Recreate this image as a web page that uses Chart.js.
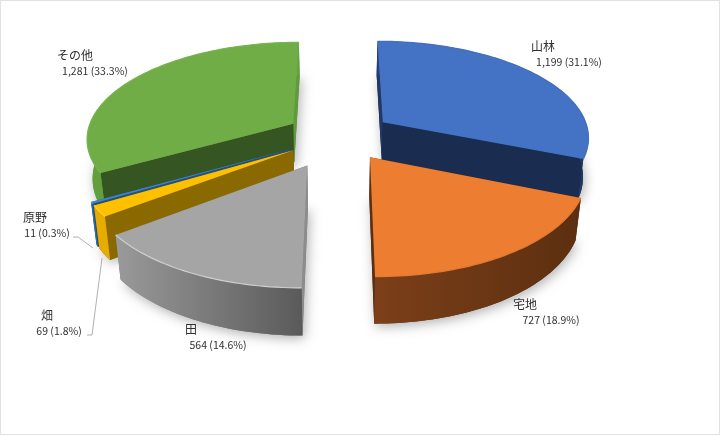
<!DOCTYPE html>
<html><head><meta charset="utf-8">
<style>html,body{margin:0;padding:0;background:#fff}canvas{display:block}</style>
<script src="https://cdn.jsdelivr.net/npm/chart.js@4"></script>
</head><body><canvas id="c" width="720" height="435"></canvas>
<script>
const categories = ['山林','宅地','田','畑','原野','その他'];
const areaValues = [1199,727,564,69,11,1281];
const percentLabels = ['31.1%','18.9%','14.6%','1.8%','0.3%','33.3%'];
const topColors = ['#4472c4','#ed7d31','#a5a5a5','#ffc000','#3f85c8','#70ad47'];
const firstEdgeWallColors = ['#1f3864','#5c2f10','#8c8c8c','#8a6a00','#24507a','#355522'];
const lastEdgeWallColors = ['#1a2c50','#5c2f10','#7a7a7a','#8a6a00','#24507a','#5f9a3c'];
const outerWallStops = [['#24407a','#1f3864'],['#7c3f19','#5c2f10'],['#9a9a9a','#5a5a5a'],['#e6ad00','#e6ad00'],['#2e6aa8','#2e6aa8'],['#639f3f','#66a040']];
const edgeColors = ['#4470bc','#e67a30','#cfcfcf','#ffd040','#5b9bd5','#78b450'];
const explodeFractions = [0.26,0.26,0.33,0.26,0.26,0.26];
const drawOrder = [0,5,4,3,2,1];

const view = {cx:339, cy:136, A:207, B:96, p:0.14, D:39, shrink:0.022};
function project(X,Y,z){
  const s = 1/(1-view.p*Y);
  return [view.cx+view.A*X*s*(1-view.shrink*z), view.cy+(view.B*Y+view.D*z)*s];
}
function recordArc(el){
  let rec = null;
  const t = {arc(x,y,r,a0,a1){
    if(r<=0.01) return;
    if(!rec) rec={x,y,r,a0,a1}; else rec.a1=a1;
  }};
  const rc = new Proxy(t,{get(o,k){return k in o?o[k]:()=>{};},set(){return true;}});
  el.draw(rc);
  return rec;
}
function poly(ctx,pts){ctx.beginPath();pts.forEach((p,i)=>i?ctx.lineTo(p[0],p[1]):ctx.moveTo(p[0],p[1]));ctx.closePath();}

const pie3d = {
  id:'pie3d',
  beforeDatasetsDraw(chart){
    const ctx = chart.ctx, arcs = chart.getDatasetMeta(0).data;
    const faces = arcs.map((el,i)=>{
      const r = recordArc(el), mid=(r.a0+r.a1)/2, e=explodeFractions[i];
      const ox=e*Math.cos(mid), oy=e*Math.sin(mid), n=Math.max(4,Math.ceil((r.a1-r.a0)*40));
      const rim=[];
      for(let k=0;k<=n;k++){const a=r.a0+(r.a1-r.a0)*k/n;rim.push([Math.cos(a)+ox,Math.sin(a)+oy]);}
      return {rim,ox,oy};
    });
    drawOrder.forEach(i=>{
      const {rim,ox,oy}=faces[i];
      const top=rim.map(q=>project(q[0],q[1],0)), bot=rim.map(q=>project(q[0],q[1],1));
      const a0=project(ox,oy,0), a1=project(ox,oy,1);
      ctx.save();
      ctx.shadowColor='rgba(0,0,0,0.3)';ctx.shadowBlur=12;ctx.shadowOffsetX=2;ctx.shadowOffsetY=3;
      ctx.fillStyle=lastEdgeWallColors[i];
      poly(ctx,[a1,...bot]);ctx.fill();
      ctx.restore();
      ctx.fillStyle=lastEdgeWallColors[i];
      poly(ctx,[a0,top[top.length-1],bot[bot.length-1],a1]);ctx.fill();
      ctx.fillStyle=firstEdgeWallColors[i];
      poly(ctx,[a0,top[0],bot[0],a1]);ctx.fill();
      const xs=top.concat(bot).map(p=>p[0]);
      const g=ctx.createLinearGradient(Math.max(...xs),0,Math.min(...xs),0);
      g.addColorStop(0,outerWallStops[i][1]);g.addColorStop(1,outerWallStops[i][0]);
      ctx.fillStyle=g;
      poly(ctx,[...top,...bot.slice().reverse()]);ctx.fill();
      ctx.fillStyle=topColors[i];
      poly(ctx,[a0,...top]);ctx.fill();
      ctx.strokeStyle=edgeColors[i];ctx.lineWidth=1.2;
      ctx.beginPath();top.forEach((p,k)=>k?ctx.lineTo(p[0],p[1]):ctx.moveTo(p[0],p[1]));ctx.stroke();
    });
    return false;
  },
  afterDraw(chart){
    const ctx=chart.ctx;
    ctx.save();
    ctx.strokeStyle='#e2e2e2';ctx.lineWidth=1;ctx.strokeRect(0.5,0.5,719,434);
    ctx.strokeStyle='#b0b0b0';
    leaderLines.forEach(l=>{ctx.beginPath();l.forEach((p,k)=>k?ctx.lineTo(p[0],p[1]):ctx.moveTo(p[0],p[1]));ctx.stroke();});
    ctx.fillStyle='#303030';ctx.textBaseline='middle';ctx.textAlign='center';
    categories.forEach((c,i)=>{
      const [nx,ny,vx,vy]=labelAnchors[i];
      ctx.font='12px "Noto Sans CJK JP"';ctx.fillText(c,nx,ny);
      ctx.font='10.5px "Noto Sans CJK JP"';
      ctx.fillText(areaValues[i].toLocaleString('en-US')+' ('+percentLabels[i]+')',vx,vy);
    });
    ctx.restore();
  }
};
const labelAnchors = [[543,46,569,62],[525,304,551,320],[191,329,218,345],[47,315,59,331],[35,217,47,233],[75,55,95,71]];
const leaderLines = [[[87,335],[92,335],[102,258]],[[73,237],[78,237],[93,248]]];

new Chart(document.getElementById('c'),{
  type:'pie',
  data:{labels:categories,datasets:[{data:areaValues,backgroundColor:topColors,borderWidth:0}]},
  options:{responsive:false,animation:false,devicePixelRatio:1,
    plugins:{legend:{display:false},tooltip:{enabled:false}}},
  plugins:[pie3d]
});
</script></body></html>
